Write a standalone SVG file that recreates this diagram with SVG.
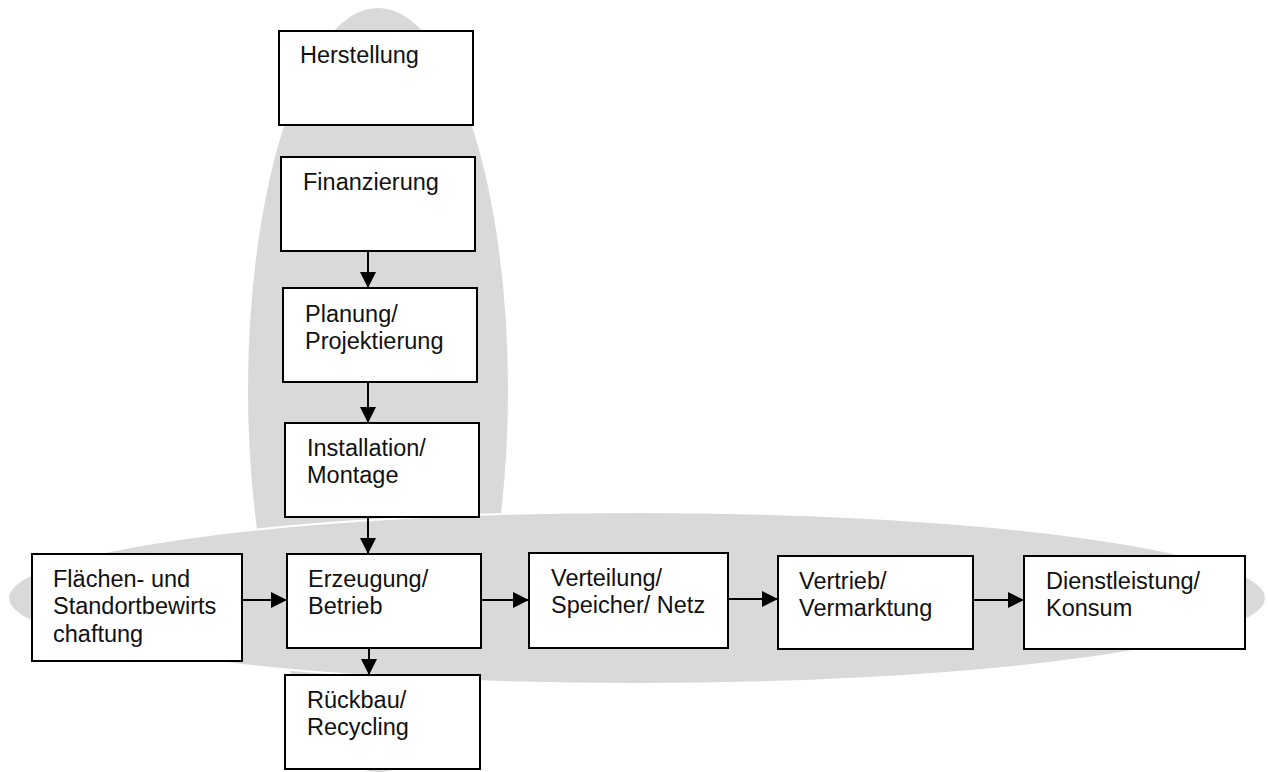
<svg xmlns="http://www.w3.org/2000/svg" width="1268" height="772" viewBox="0 0 1268 772">
<style>
.bg{fill:#d9d9d9;stroke:#ffffff;stroke-width:2}
.box{fill:#ffffff;stroke:#000000;stroke-width:2}
.t{font-family:"Liberation Sans",Arial,Helvetica,sans-serif;font-size:23.5px;fill:#111111}
.c{stroke:#000000;stroke-width:2;fill:none;marker-end:url(#ah)}
</style>
<defs>
<marker id="ah" markerWidth="16" markerHeight="16" refX="16" refY="8" orient="auto" markerUnits="userSpaceOnUse">
<path d="M0,0 L16,8 L0,16 Z" fill="#000000"/>
</marker>
</defs>
<g id="backgrounds">
<ellipse class="bg" cx="378" cy="390" rx="131" ry="383"/>
<ellipse class="bg" cx="637" cy="598" rx="629" ry="86"/>
</g>
<g id="connectors">
<line class="c" x1="368" y1="251" x2="368" y2="288"/>
<line class="c" x1="368" y1="382" x2="368" y2="423"/>
<line class="c" x1="368" y1="517" x2="368" y2="554"/>
<line class="c" x1="369" y1="648" x2="369" y2="675"/>
<line class="c" x1="242" y1="600" x2="287" y2="600"/>
<line class="c" x1="481" y1="600" x2="529" y2="600"/>
<line class="c" x1="728" y1="599" x2="778" y2="599"/>
<line class="c" x1="973" y1="600" x2="1024" y2="600"/>
</g>
<g id="herstellung">
<rect class="box" x="279" y="31" width="194" height="94"/>
<text class="t" x="300" y="63">Herstellung</text>
</g>
<g id="finanzierung">
<rect class="box" x="281" y="157" width="194" height="94"/>
<text class="t" x="303" y="190">Finanzierung</text>
</g>
<g id="planung">
<rect class="box" x="283" y="288" width="194" height="94"/>
<text class="t" x="305" y="322">Planung/</text>
<text class="t" x="305" y="349">Projektierung</text>
</g>
<g id="installation">
<rect class="box" x="285" y="423" width="194" height="94"/>
<text class="t" x="307" y="456">Installation/</text>
<text class="t" x="307" y="483">Montage</text>
</g>
<g id="erzeugung">
<rect class="box" x="287" y="554" width="194" height="94"/>
<text class="t" x="308" y="587">Erzeugung/</text>
<text class="t" x="308" y="614">Betrieb</text>
</g>
<g id="rueckbau">
<rect class="box" x="285" y="675" width="195" height="94"/>
<text class="t" x="307" y="708">Rückbau/</text>
<text class="t" x="307" y="735">Recycling</text>
</g>
<g id="flaechen">
<rect class="box" x="32" y="554" width="210" height="107"/>
<text class="t" x="53" y="587">Flächen- und</text>
<text class="t" x="53" y="614">Standortbewirts</text>
<text class="t" x="53" y="642">chaftung</text>
</g>
<g id="verteilung">
<rect class="box" x="529" y="553" width="199" height="95"/>
<text class="t" x="551" y="586">Verteilung/</text>
<text class="t" x="551" y="613">Speicher/ Netz</text>
</g>
<g id="vertrieb">
<rect class="box" x="778" y="556" width="195" height="93"/>
<text class="t" x="799" y="589">Vertrieb/</text>
<text class="t" x="799" y="616">Vermarktung</text>
</g>
<g id="dienstleistung">
<rect class="box" x="1024" y="556" width="221" height="93"/>
<text class="t" x="1046" y="589">Dienstleistung/</text>
<text class="t" x="1046" y="616">Konsum</text>
</g>
</svg>
